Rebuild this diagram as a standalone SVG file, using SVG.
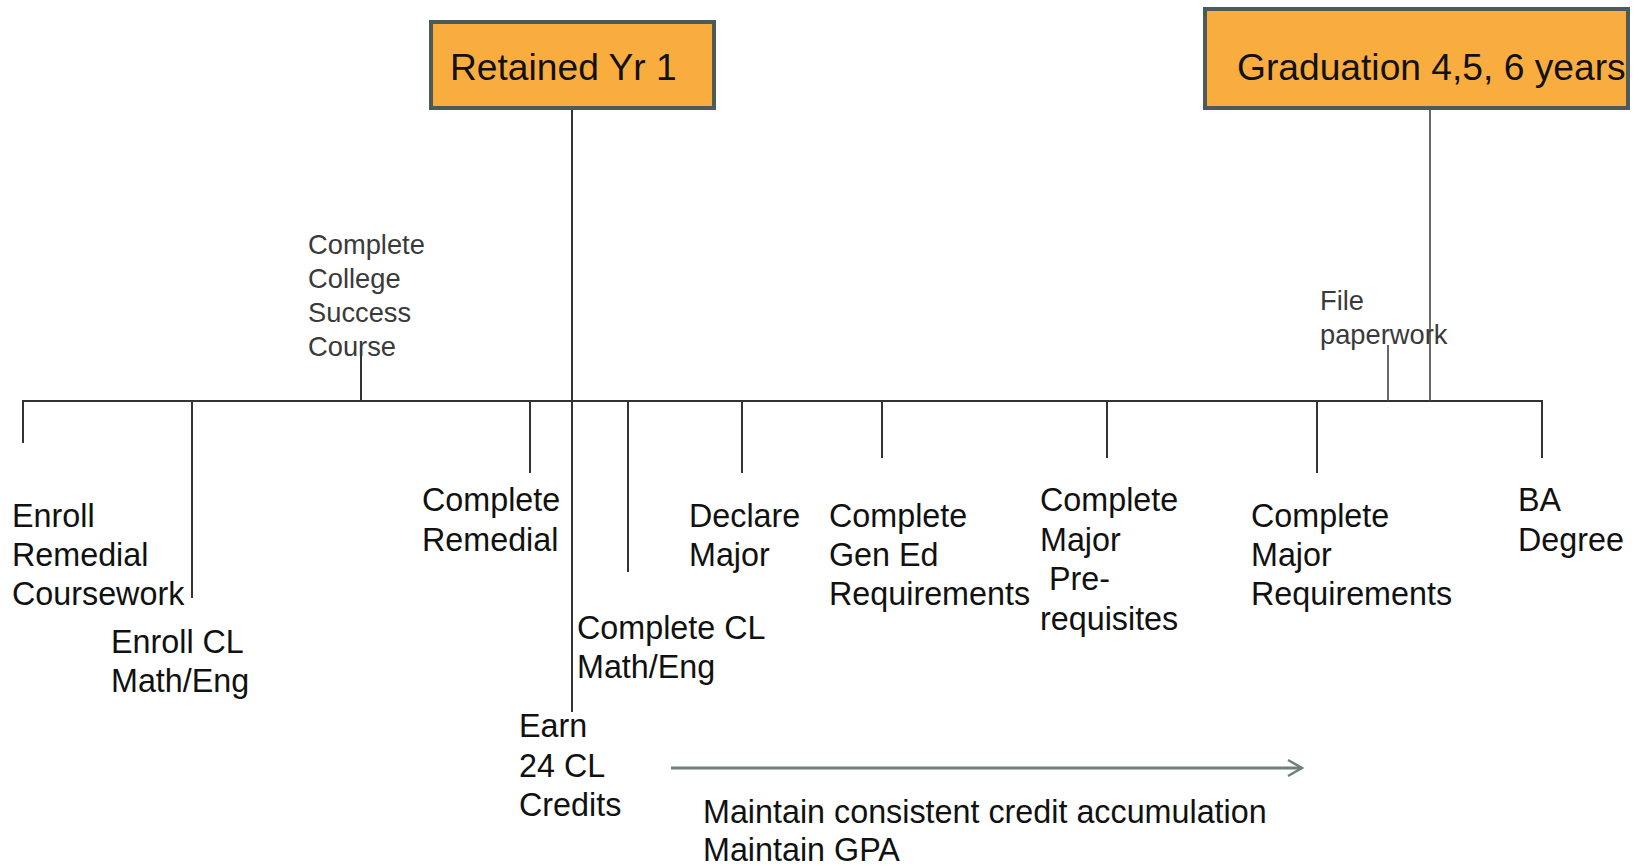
<svg xmlns="http://www.w3.org/2000/svg" width="1642" height="866" viewBox="0 0 1642 866">
<defs>
<style>
.box{fill:#F9AD3F;stroke:#4d5a57;stroke-width:4}
.big{font-family:"Liberation Sans",Arial,sans-serif;font-size:37.2px;fill:#111}
.lbl{font-family:"Liberation Sans",Arial,sans-serif;font-size:32.3px;fill:#111}
.sm{font-family:"Liberation Sans",Arial,sans-serif;font-size:27.3px;fill:#3a3a3a}
.ln{stroke:#333;stroke-width:2;fill:none}
.thin{stroke:#444;stroke-width:1.6;fill:none}
.arr{stroke:#6f7f7a;stroke-width:3;fill:none}
</style>
<marker id="chev" viewBox="0 0 20 20" refX="18" refY="10" markerWidth="20" markerHeight="20" markerUnits="userSpaceOnUse" orient="auto">
<path d="M4,2 L18,10 L4,18" fill="none" stroke="#6f7f7a" stroke-width="2.5"/>
</marker>
</defs>
<rect width="1642" height="866" fill="#fff"/>
<g id="connectors">
<line class="ln" x1="22" y1="401" x2="1543" y2="401"/>
<line class="ln" x1="572" y1="108" x2="572" y2="712"/>
<line class="thin" x1="1430" y1="108" x2="1430" y2="401"/>
<line class="ln" x1="361" y1="345" x2="361" y2="401"/>
<line class="thin" x1="1388" y1="345" x2="1388" y2="401"/>
<line class="ln" x1="23" y1="401" x2="23" y2="443"/>
<line class="ln" x1="192" y1="401" x2="192" y2="598"/>
<line class="ln" x1="530" y1="401" x2="530" y2="473"/>
<line class="ln" x1="628" y1="401" x2="628" y2="572"/>
<line class="ln" x1="742" y1="401" x2="742" y2="473"/>
<line class="ln" x1="882" y1="401" x2="882" y2="458"/>
<line class="ln" x1="1107" y1="401" x2="1107" y2="458"/>
<line class="ln" x1="1317" y1="401" x2="1317" y2="473"/>
<line class="ln" x1="1542" y1="401" x2="1542" y2="458"/>
<line class="arr" x1="671" y1="768" x2="1302" y2="768" marker-end="url(#chev)"/>
</g>
<g id="retained">
<rect class="box" x="431" y="22" width="283" height="86"/>
<text class="big" x="450" y="80">Retained Yr 1</text>
</g>
<g id="graduation">
<rect class="box" x="1205" y="9" width="423" height="99"/>
<text class="big" x="1237" y="80">Graduation 4,5, 6 years</text>
</g>
<g id="college-success">
<text class="sm" x="308" y="254">Complete</text>
<text class="sm" x="308" y="288">College</text>
<text class="sm" x="308" y="322">Success</text>
<text class="sm" x="308" y="356">Course</text>
</g>
<g id="file-paperwork">
<text class="sm" x="1320" y="310">File</text>
<text class="sm" x="1320" y="344">paperwork</text>
</g>
<g id="enroll-remedial">
<text class="lbl" x="12" y="527">Enroll</text>
<text class="lbl" x="12" y="566">Remedial</text>
<text class="lbl" x="12" y="605">Coursework</text>
</g>
<g id="enroll-cl">
<text class="lbl" x="111" y="653">Enroll CL</text>
<text class="lbl" x="111" y="692">Math/Eng</text>
</g>
<g id="complete-remedial">
<text class="lbl" x="422" y="511">Complete</text>
<text class="lbl" x="422" y="551">Remedial</text>
</g>
<g id="complete-cl">
<text class="lbl" x="577" y="639">Complete CL</text>
<text class="lbl" x="577" y="678">Math/Eng</text>
</g>
<g id="earn-credits">
<text class="lbl" x="519" y="737">Earn</text>
<text class="lbl" x="519" y="777">24 CL</text>
<text class="lbl" x="519" y="816">Credits</text>
</g>
<g id="declare-major">
<text class="lbl" x="689" y="527">Declare</text>
<text class="lbl" x="689" y="566">Major</text>
</g>
<g id="gen-ed">
<text class="lbl" x="829" y="527">Complete</text>
<text class="lbl" x="829" y="566">Gen Ed</text>
<text class="lbl" x="829" y="605">Requirements</text>
</g>
<g id="major-prereq">
<text class="lbl" x="1040" y="511">Complete</text>
<text class="lbl" x="1040" y="551">Major</text>
<text class="lbl" x="1040" y="590" xml:space="preserve"> Pre-</text>
<text class="lbl" x="1040" y="630">requisites</text>
</g>
<g id="major-req">
<text class="lbl" x="1251" y="527">Complete</text>
<text class="lbl" x="1251" y="566">Major</text>
<text class="lbl" x="1251" y="605">Requirements</text>
</g>
<g id="ba-degree">
<text class="lbl" x="1518" y="511">BA</text>
<text class="lbl" x="1518" y="551">Degree</text>
</g>
<g id="maintain">
<text class="lbl" x="703" y="823">Maintain consistent credit accumulation</text>
<text class="lbl" x="703" y="861">Maintain GPA</text>
</g>
</svg>
